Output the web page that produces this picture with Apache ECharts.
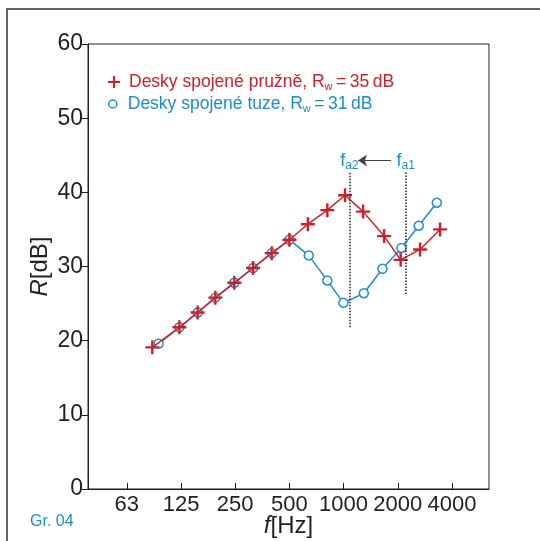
<!DOCTYPE html>
<html>
<head>
<meta charset="utf-8">
<title>Gr. 04</title>
<script src="https://cdn.jsdelivr.net/npm/echarts@6/dist/echarts.min.js"></script>
</head>
<body style="margin:0;background:#fff">
<div id="main" style="width:540px;height:541px"></div>
<script>
// x = third-octave band index, 63 Hz = 0 (octave = 3)
var tickPos = [0, 3, 6, 9, 12, 15, 18];
var tickLabels = ['63', '125', '250', '500', '1000', '2000', '4000'];

// Desky spojené pružně (red +)
var redX = [1.41, 2.91, 3.92, 4.90, 5.95, 6.99, 8.02, 9.00, 10.02, 11.10, 12.08, 13.08, 14.24, 15.16, 16.23, 17.34];
var redY = [19.1, 21.8, 23.8, 25.8, 27.8, 29.8, 31.8, 33.6, 35.7, 37.6, 39.6, 37.4, 34.1, 30.9, 32.3, 35.0];

// Desky spojené tuze (blue o)
var blueX = [1.76, 2.91, 3.92, 4.90, 5.95, 6.99, 8.02, 9.00, 10.07, 11.10, 11.99, 13.12, 14.15, 15.20, 16.16, 17.16];
var blueY = [19.6, 21.8, 23.8, 25.8, 27.8, 29.8, 31.8, 33.6, 31.5, 28.1, 25.1, 26.4, 29.7, 32.5, 35.5, 38.6];

// resonance markers
var fa2 = {x: 12.32, y0: 21.8, y1: 42.7};
var fa1 = {x: 15.44, y0: 26.3, y1: 42.7};
var arrow = {x0: 14.63, x1: 12.80, y: 44.3};

var RED = '#c8232c';
var BLUE = '#1e8fc3';
var INK = '#231f20';
var FONT = '"Liberation Sans", Arial, sans-serif';

function pairs(xs, ys) {
    return xs.map(function (x, i) { return [x, ys[i]]; });
}

var plus = 'path://M-1.2,-7 L1.2,-7 L1.2,-1.2 L7,-1.2 L7,1.2 L1.2,1.2 L1.2,7 L-1.2,7 L-1.2,1.2 L-7,1.2 L-7,-1.2 L-1.2,-1.2 Z';

var redName = 'pruzne';
var blueName = 'tuze';
var legendText = {};
legendText[redName] = '{t|Desky spojené pružně, R}{s|w}{t|\u2009=\u200935\u2009dB}';
legendText[blueName] = '{t|Desky spojené tuze, R}{s|w}{t|\u2009=\u200931\u2009dB}';

function legendRich(c) {
    return {
        color: c, fontSize: 17.5, fontFamily: FONT,
        rich: {
            t: {color: c, fontSize: 17.5, fontFamily: FONT, lineHeight: 20},
            s: {color: c, fontSize: 11, fontFamily: FONT, lineHeight: 10, verticalAlign: 'bottom'}
        }
    };
}

var faRich = {
    f: {color: BLUE, fontSize: 18, fontFamily: FONT, lineHeight: 20},
    s: {color: BLUE, fontSize: 12, fontFamily: FONT, lineHeight: 10, verticalAlign: 'bottom'}
};

var nameStyle = {
    color: INK, fontSize: 24, fontFamily: FONT,
    rich: {i: {fontStyle: 'italic', fontSize: 24, color: INK, fontFamily: FONT}}
};

var chart = echarts.init(document.getElementById('main'));

var option = {
    animation: false,
    textStyle: {fontFamily: FONT},
    grid: {
        left: 88, right: 51, top: 44, bottom: 52,
        outerBoundsMode: 'none', containLabel: false,
        show: true, borderColor: INK, borderWidth: 1
    },
    legend: [
        {
            left: 103, top: 68, itemWidth: 20, itemHeight: 12, itemGap: 8,
            data: [{name: redName, icon: plus}],
            formatter: function (n) { return legendText[n]; },
            textStyle: legendRich(RED)
        },
        {
            left: 103, top: 90, itemWidth: 20, itemHeight: 8, itemGap: 8,
            data: [{name: blueName, icon: 'circle', itemStyle: {color: '#fff', borderColor: BLUE, borderWidth: 1.5}}],
            formatter: function (n) { return legendText[n]; },
            textStyle: legendRich(BLUE)
        }
    ],
    xAxis: {
        type: 'value', min: -2.15, max: 20.05,
        name: '{i|f}[Hz]', nameLocation: 'middle', nameGap: 25, nameMoveOverlap: false,
        nameTextStyle: nameStyle,
        axisLine: {onZero: false, lineStyle: {color: INK, width: 1}},
        axisTick: {inside: true, length: 6, customValues: tickPos, lineStyle: {color: INK}},
        axisLabel: {
            customValues: tickPos, color: INK, fontSize: 22, margin: 5,
            formatter: function (v) { return tickLabels[tickPos.indexOf(Math.round(v))]; }
        },
        splitLine: {show: false}
    },
    yAxis: {
        type: 'value', min: 0, max: 60, interval: 10,
        name: '{i|R}[dB]', nameLocation: 'middle', nameGap: 36, nameRotate: 90, nameMoveOverlap: false,
        nameTextStyle: nameStyle,
        axisLine: {show: true, onZero: false, lineStyle: {color: INK, width: 1}},
        axisTick: {show: true, length: 6, lineStyle: {color: INK}},
        axisLabel: {color: INK, fontSize: 23, margin: 5},
        splitLine: {show: false}
    },
    series: [
        {
            name: blueName, type: 'line', z: 2,
            data: pairs(blueX, blueY),
            symbol: 'circle', symbolSize: 9,
            itemStyle: {color: '#fff', borderColor: BLUE, borderWidth: 1.5},
            lineStyle: {color: BLUE, width: 1.5},
            markLine: {
                silent: true, symbol: ['none', 'none'],
                lineStyle: {color: INK, type: 'dotted', width: 1.5},
                data: [
                    [{coord: [fa2.x, fa2.y0]}, {coord: [fa2.x, fa2.y1]}],
                    [{coord: [fa1.x, fa1.y0]}, {coord: [fa1.x, fa1.y1]}]
                ],
                label: {
                    show: true, position: 'end', distance: 1,
                    formatter: function (p) { return p.dataIndex === 0 ? '{f|f}{s|a2}' : '{f|f}{s|a1}'; },
                    rich: faRich
                }
            }
        },
        {
            name: redName, type: 'line', z: 3,
            data: pairs(redX, redY),
            symbol: plus, symbolSize: 14,
            itemStyle: {color: RED},
            lineStyle: {color: RED, width: 1.5},
            markLine: {
                silent: true, symbol: ['none', 'arrow'], symbolSize: 9,
                lineStyle: {color: '#444', type: 'solid', width: 1.2},
                label: {show: false},
                data: [
                    [{coord: [arrow.x0, arrow.y]}, {coord: [arrow.x1, arrow.y]}]
                ]
            }
        }
    ],
    graphic: [
        {type: 'polyline', silent: true, shape: {points: [[7, 541], [7, 9], [540, 9]]}, style: {stroke: '#333', lineWidth: 1.5, fill: null}},
        {type: 'text', left: 30, top: 514, style: {text: 'Gr. 04', fill: BLUE, fontSize: 16, fontFamily: FONT}}
    ]
};

chart.setOption(option);
</script>
</body>
</html>
